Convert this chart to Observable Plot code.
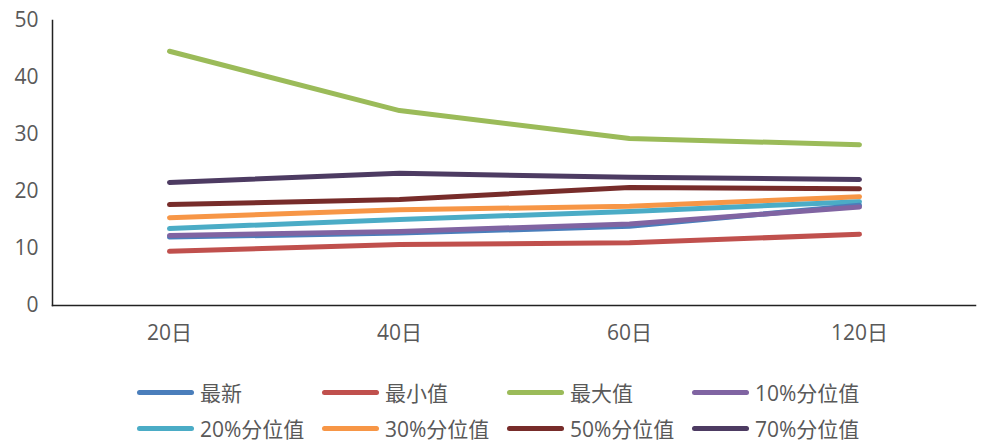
<!DOCTYPE html>
<html>
<head>
<meta charset="utf-8">
<script src="https://cdn.jsdelivr.net/npm/d3@7"></script>
<script src="https://cdn.jsdelivr.net/npm/@observablehq/plot@0.6"></script>
<style>
  body { margin: 0; background: #fff; font-family: "Open Sans", "Noto Sans CJK SC", sans-serif; }
  #chart svg { display: block; }
  #legend { display: grid; grid-template-columns: repeat(4, 185px); row-gap: 12px; padding-left: 137px; padding-top: 20px; }
  .item { display: flex; align-items: center; font-size: 21px; color: #595959; height: 24px; white-space: nowrap; }
  .sw { width: 57px; height: 5px; border-radius: 3px; margin-right: 6px; flex: none; }
</style>
</head>
<body>
<div id="chart"></div>
<div id="legend"></div>
<script>
const categories = ["20日", "40日", "60日", "120日"];
const seriesNames = ["最新", "最小值", "最大值", "10%分位值", "20%分位值", "30%分位值", "50%分位值", "70%分位值"];
const colors = ["#4a7ebb", "#c0504d", "#9bbb59", "#8064a2", "#4bacc6", "#f79646", "#772c2a", "#4d3b62"];
const latest = [12.0, 12.7, 13.9, 17.6];
const minimum = [9.5, 10.7, 11.0, 12.5];
const maximum = [44.6, 34.2, 29.3, 28.2];
const p10 = [12.3, 13.0, 14.3, 17.3];
const p20 = [13.5, 15.1, 16.5, 18.2];
const p30 = [15.4, 16.8, 17.4, 19.1];
const p50 = [17.7, 18.6, 20.7, 20.5];
const p70 = [21.6, 23.2, 22.5, 22.1];
const yTicks = [0, 10, 20, 30, 40, 50];

const seriesValues = [latest, minimum, maximum, p10, p20, p30, p50, p70];
const drawOrder = [7, 6, 2, 5, 4, 1, 0, 3];
const data = [];
for (const s of drawOrder) {
  categories.forEach((c, i) => data.push({series: seriesNames[s], cat: c, value: seriesValues[s][i]}));
}

const chart = Plot.plot({
  width: 981,
  height: 360,
  marginTop: 20,
  marginBottom: 55,
  marginLeft: 52,
  marginRight: 6,
  style: {fontSize: "21px", fontFamily: "'Open Sans', 'Noto Sans CJK SC', sans-serif", color: "#595959"},
  x: {type: "point", domain: categories, padding: 0.5, label: null},
  y: {domain: [0, 50], label: null},
  color: {domain: seriesNames, range: colors},
  marks: [
    Plot.axisY({ticks: yTicks, tickSize: 0, tickPadding: 14, label: null, fill: "#595959"}),
    Plot.axisX({tickSize: 0, tickPadding: 20, label: null, fill: "#595959"}),
    Plot.frame({anchor: "left", stroke: "#222", strokeWidth: 1.5}),
    Plot.frame({anchor: "bottom", stroke: "#222", strokeWidth: 1.5}),
    Plot.line(data, {x: "cat", y: "value", z: "series", stroke: "series", strokeWidth: 5, strokeLinecap: "round", strokeLinejoin: "round"})
  ]
});
document.getElementById("chart").appendChild(chart);

const legend = document.getElementById("legend");
seriesNames.forEach((n, i) => {
  const it = document.createElement("div");
  it.className = "item";
  const sw = document.createElement("span");
  sw.className = "sw";
  sw.style.background = colors[i];
  it.appendChild(sw);
  it.appendChild(document.createTextNode(n));
  legend.appendChild(it);
});
</script>
</body>
</html>
